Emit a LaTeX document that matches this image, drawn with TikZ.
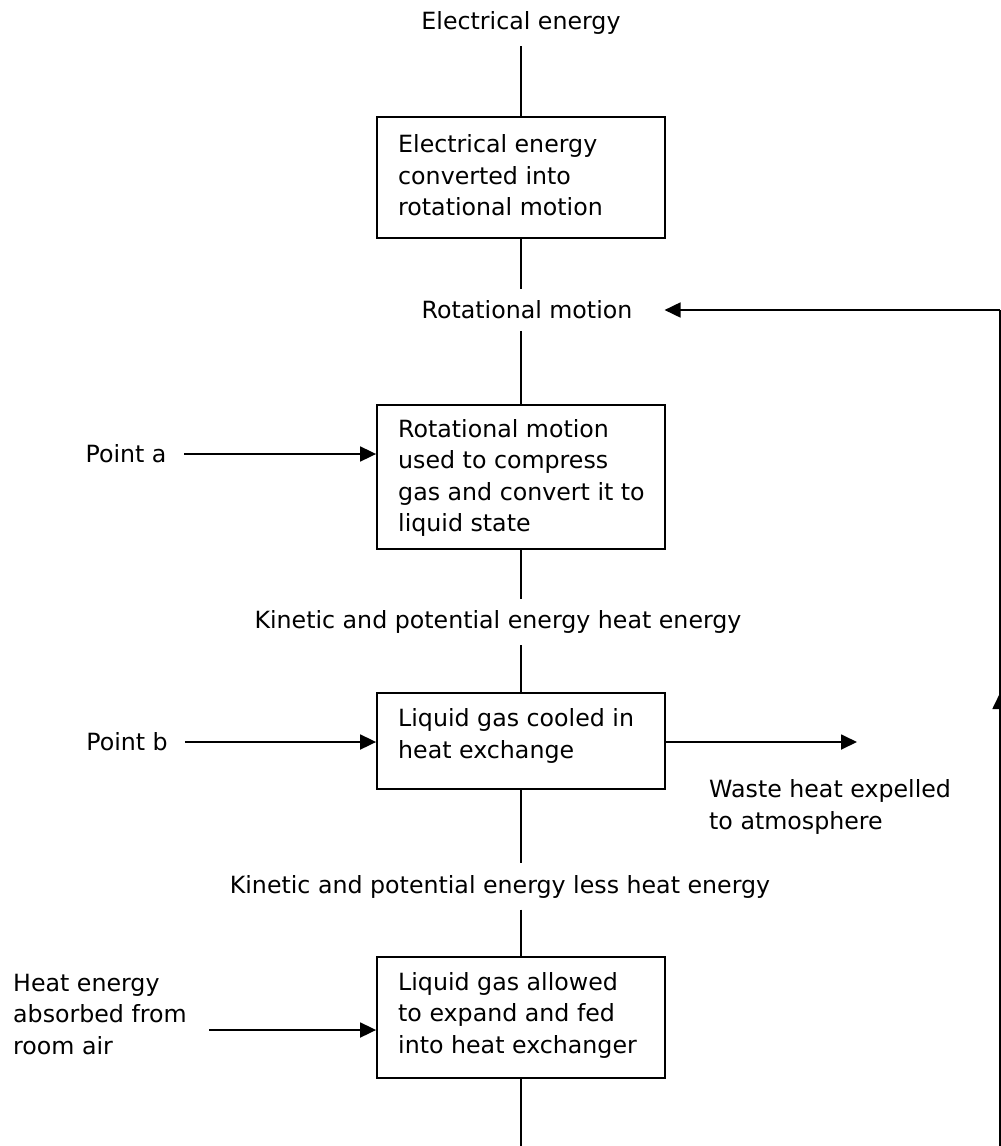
\documentclass[tikz,border=0pt]{standalone}
\usepackage{fontspec}
\setmainfont{DejaVu Sans}
\usetikzlibrary{arrows.meta}
\begin{document}
\begin{tikzpicture}[x=1pt,y=-1pt,
  txt/.style={font=\fontsize{23.7pt}{31.5pt}\selectfont, inner sep=0pt},
  lbl/.style={txt, inner xsep=0pt, inner ysep=11.5pt},
  boxnode/.style={draw, line width=1.8pt, minimum width=288pt, inner sep=0pt},
  conn/.style={line width=1.8pt},
  arr/.style={line width=1.8pt, -{Triangle[length=16pt,width=15pt]}}
]
\useasboundingbox (0,0) rectangle (1001,1146);

% labels on the main column
\node[lbl] (t0) at (521,23) {Electrical energy};
\node[lbl, inner xsep=32pt] (rm) at (527,310) {Rotational motion};
\node[lbl] (k1) at (498,622) {Kinetic and potential energy heat energy};
\node[lbl] (k2) at (500,886.5) {Kinetic and potential energy less heat energy};

% boxes
\node[boxnode, minimum height=120.6pt] (b1) at (521,177.3) {};
\node[boxnode, minimum height=144pt] (b2) at (521,477) {};
\node[boxnode, minimum height=96pt] (b3) at (521,741) {};
\node[boxnode, minimum height=121pt] (b4) at (521,1017.5) {};

% box texts
\node[txt, anchor=west, align=left] (b1t) at (398,175.5) {Electrical energy\\converted into\\rotational motion};
\node[txt, anchor=west, align=left] (b2t) at (398,478) {Rotational motion\\used to compress\\gas and convert it to\\liquid state};
\node[txt, anchor=west, align=left] (b3t) at (398,736) {Liquid gas cooled in\\heat exchange};
\node[txt, anchor=west, align=left] (b4t) at (398,1015) {Liquid gas allowed\\to expand and fed\\into heat exchanger};

% side labels
\node[txt, inner xsep=17.5pt] (pa) at (126,454) {Point a};
\node[txt, inner xsep=17pt] (pb) at (127,742) {Point b};
\node[txt, anchor=west, align=left] (he) at (13,1014.3) {Heat energy\\absorbed from\\room air};
\node[txt, anchor=west, align=left] (wh) at (709,807) {Waste heat expelled\\to atmosphere};

% coordinates for free ends
\coordinate (hs) at (209,1030);
\coordinate (we) at (857,742);
\coordinate (bot) at (521,1146);
\coordinate (rb) at (1000,1150);
\coordinate (rmid) at (1000,693);
\coordinate (rt) at (1000,310);

% main column connectors
\draw[conn] (t0.south -| b1.north) -- (b1.north);
\draw[conn] (b1.south) -- (b1.south |- rm.north);
\draw[conn] (b1.north |- rm.south) -- (b2.north);
\draw[conn] (b2.south) -- (b2.south |- k1.north);
\draw[conn] (b2.north |- k1.south) -- (b3.north);
\draw[conn] (b3.south) -- (b3.south |- k2.north);
\draw[conn] (b3.north |- k2.south) -- (b4.north);
\draw[conn] (b4.south) -- (bot);

% side arrows
\draw[arr] (pa.east) -- (pa.east -| b2.west);
\draw[arr] (pb.east) -- (pb.east -| b3.west);
\draw[arr] (hs) -- (hs -| b4.west);
\draw[arr] (b3.east |- we) -- (we);

% return loop
\draw[conn] (rb) -- (rt);
\draw[arr] (rt) -- (rm.east);
\draw[arr] (rb) -- (rmid);
\end{tikzpicture}
\end{document}
